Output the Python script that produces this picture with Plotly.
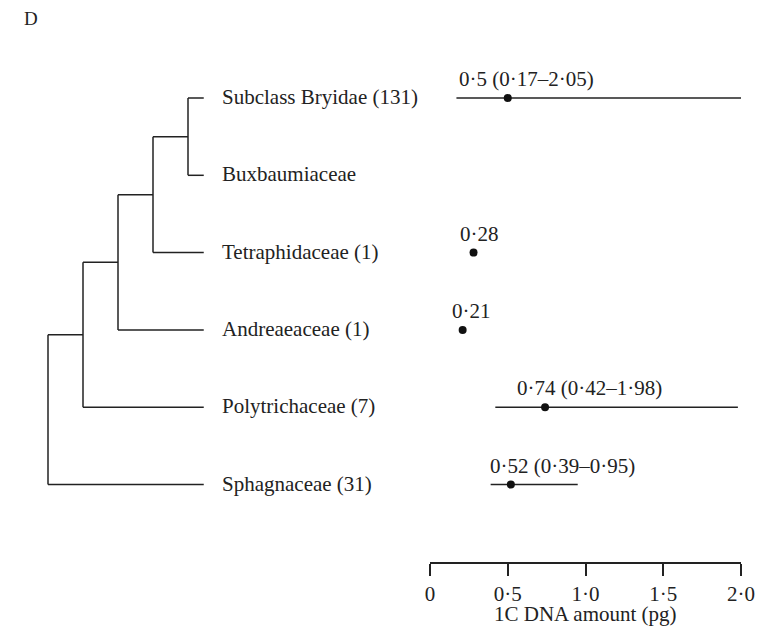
import plotly.graph_objects as go

# Taxa (top to bottom), with the number of species sampled
taxa = ["Subclass Bryidae (131)", "Buxbaumiaceae", "Tetraphidaceae (1)",
        "Andreaeaceae (1)", "Polytrichaceae (7)", "Sphagnaceae (31)"]

# 1C DNA amounts (pg): mean and range; None where no data
mean_c = [0.5, None, 0.28, 0.21, 0.74, 0.52]
low_c = [0.17, None, None, None, 0.42, 0.39]
high_c = [2.05, None, None, None, 1.98, 0.95]
value_text = ["0·5 (0·17–2·05)", None, "0·28", "0·21",
              "0·74 (0·42–1·98)", "0·52 (0·39–0·95)"]

# Axis ticks
tick_vals = [0, 0.5, 1.0, 1.5, 2.0]
tick_text = ["0", "0·5", "1·0", "1·5", "2·0"]

# Cladogram topology, leaves given as indices into `taxa`
tree = (((((0, 1), 2), 3), 4), 5)

W, H = 767, 632
FONT = "Liberation Serif"
FS = 21
INK = "#222222"
LINE_W = 1.5

# Layout geometry (pixels)
ROW0_PX, ROW_STEP_PX = 98.0, 77.3
X0_PX, X1_PX = 430, 741
DEPTH0_PX, DEPTH_STEP_PX = 48, 35
TIP_DEPTH = 4.45
AXIS_LINE_PX = 563

y_range = [(H - ROW0_PX) / ROW_STEP_PX, -ROW0_PX / ROW_STEP_PX]
x2_range = [-DEPTH0_PX / DEPTH_STEP_PX, (W - DEPTH0_PX) / DEPTH_STEP_PX]

rows = list(range(len(taxa)))

# ---- cladogram segments ----
tx, ty = [], []


def layout_node(node, depth):
    """Return (x, y) of node in (depth, row) units and collect segments."""
    if isinstance(node, int):
        return TIP_DEPTH, rows[node]
    kids = [layout_node(ch, depth + 1) for ch in node]
    ys = [k[1] for k in kids]
    # vertical bar joining the children
    tx.extend([depth, depth, None])
    ty.extend([min(ys), max(ys), None])
    # horizontal stems to each child
    for kx, ky in kids:
        tx.extend([depth, kx, None])
        ty.extend([ky, ky, None])
    return depth, sum(ys) / len(ys)


layout_node(tree, 0)

fig = go.Figure()

fig.add_trace(go.Scatter(
    x=tx, y=ty, xaxis="x2", yaxis="y", mode="lines",
    line=dict(color=INK, width=LINE_W), hoverinfo="skip", showlegend=False,
))

# ---- range lines ----
rx, ry = [], []
for r, lo, hi in zip(rows, low_c, high_c):
    if lo is not None and hi is not None:
        rx.extend([lo, hi, None])
        ry.extend([r, r, None])

fig.add_trace(go.Scatter(
    x=rx, y=ry, mode="lines", line=dict(color=INK, width=LINE_W),
    hoverinfo="skip", showlegend=False,
))

# ---- mean dots ----
dx = [m for m in mean_c if m is not None]
dy = [r for r, m in zip(rows, mean_c) if m is not None]
fig.add_trace(go.Scatter(
    x=dx, y=dy, mode="markers",
    marker=dict(color="#111111", size=8, line=dict(width=0)),
    cliponaxis=False, showlegend=False,
))

annotations = []

# taxon labels
for r, name in zip(rows, taxa):
    annotations.append(dict(
        x=TIP_DEPTH, y=r, xref="x2", yref="y", text=name,
        xanchor="left", yanchor="middle", xshift=16, yshift=1,
        showarrow=False, font=dict(family=FONT, size=FS, color=INK),
    ))

# value labels above each dot
label_shift = [-51, 0, -16, -13, -30, -23]
for r, m, txt, sh in zip(rows, mean_c, value_text, label_shift):
    if m is None:
        continue
    annotations.append(dict(
        x=m, y=r, xref="x", yref="y", text=txt,
        xanchor="left", yanchor="middle", xshift=sh, yshift=19,
        showarrow=False, font=dict(family=FONT, size=FS, color=INK),
    ))

# axis title
annotations.append(dict(
    x=0.5, y=1 - 614 / H, xref="x domain", yref="paper",
    text="1C DNA amount (pg)", xanchor="center", yanchor="middle",
    showarrow=False, font=dict(family=FONT, size=FS, color=INK),
))

# panel letter
annotations.append(dict(
    x=31 / W, y=1 - 18 / H, xref="paper", yref="paper", text="D",
    xanchor="center", yanchor="middle", showarrow=False,
    font=dict(family=FONT, size=19, color=INK),
))

fig.update_layout(
    width=W, height=H,
    margin=dict(l=0, r=0, t=0, b=0, pad=0, autoexpand=False),
    paper_bgcolor="white", plot_bgcolor="rgba(0,0,0,0)",
    showlegend=False,
    xaxis=dict(
        domain=[X0_PX / W, X1_PX / W], range=[0, 2.0],
        anchor="free", position=1 - AXIS_LINE_PX / H, automargin=False,
        showgrid=False, zeroline=False, showline=True,
        linecolor=INK, linewidth=LINE_W,
        ticks="outside", ticklen=12, tickwidth=LINE_W, tickcolor=INK,
        tickvals=tick_vals, ticktext=tick_text,
        tickfont=dict(family=FONT, size=FS, color=INK),
        fixedrange=True,
    ),
    xaxis2=dict(
        domain=[0, 1], range=x2_range, anchor="y", visible=False,
        automargin=False, fixedrange=True,
    ),
    yaxis=dict(
        domain=[0, 1], range=y_range, visible=False, automargin=False,
        fixedrange=True,
    ),
    annotations=annotations,
)

fig.write_html("out.html")
